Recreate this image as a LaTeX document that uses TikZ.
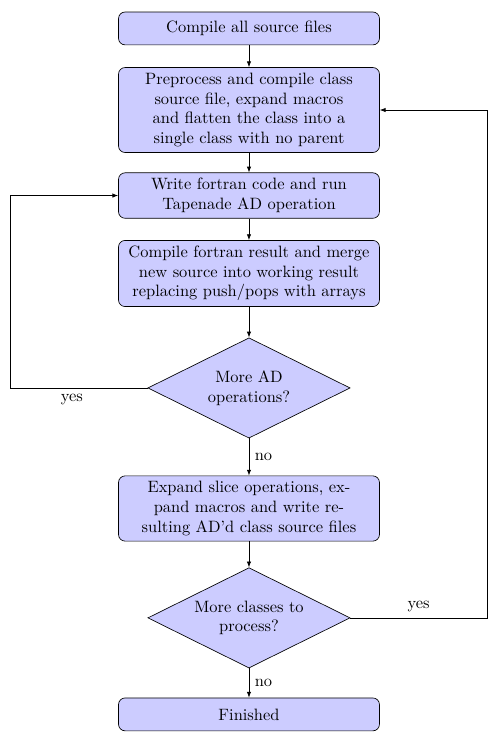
\documentclass[tikz,border=0pt]{standalone}
\usepackage{tikz}
\usetikzlibrary{positioning,arrows.meta,shapes.geometric}
\tikzset{
    block/.style={rectangle,rounded corners,draw,fill=blue!20,text width=152pt,align=center,minimum height=20pt},
    decision/.style={diamond,draw,fill=blue!20,text width=76pt,align=center,aspect=2,inner sep=0pt,minimum width=123pt,minimum height=61pt},
    flow/.style={draw,-{Latex[length=3.5pt,width=2.6pt]}}
}
\begin{document}
\begin{tikzpicture}
\useasboundingbox (0,0) rectangle (304.6pt,-452.4pt);
\node[block] (compile) at (151.4pt,-17.3pt) {Compile all source files};
\node[block] (flatten) at (151.4pt,-66.9pt) {Preprocess and compile class source file, expand macros and flatten the class into a single class with no parent};
\node[block] (tapenade) at (151.4pt,-118.9pt) {Write fortran code and run Tapenade AD operation};
\node[block] (merge) at (151.4pt,-166.3pt) {Compile fortran result and merge new source into working result replacing push/pops with arrays};
\node[decision] (moread) at (151.4pt,-235.9pt) {More AD\\operations?};
\node[block] (expand) at (151.4pt,-309.2pt) {Expand slice operations, expand macros and write resulting AD'd class source files};
\node[decision] (moreclass) at (151.4pt,-375.7pt) {More classes to\\process?};
\node[block] (finished) at (151.4pt,-434.4pt) {Finished};
\coordinate (leftloop) at (6.1pt,0);
\coordinate (rightloop) at (296.1pt,0);
% main line
\draw[flow] (compile) -- (flatten);
\draw[flow] (flatten) -- (tapenade);
\draw[flow] (tapenade) -- (merge);
\draw[flow] (merge) -- (moread);
\draw[flow] (moread) -- node[right] {no} (expand);
\draw[flow] (expand) -- (moreclass);
\draw[flow] (moreclass) -- node[right] {no} (finished);
% loops
\draw[flow] (moread.west) -- node[below,pos=0.55] {yes} (moread.west -| leftloop) |- (tapenade.west);
\draw[flow] (moreclass.east) -- node[above] {yes} (moreclass.east -| rightloop) |- (flatten.east);
\end{tikzpicture}
\end{document}
